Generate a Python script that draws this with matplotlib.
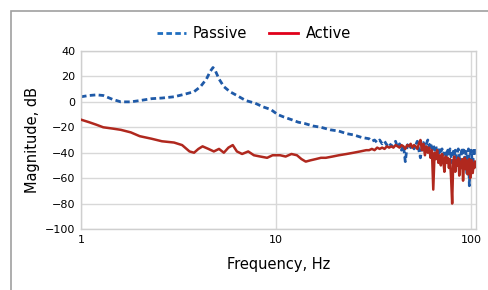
import matplotlib
matplotlib.use("Agg")
import matplotlib.pyplot as plt
from matplotlib.patches import Rectangle
from matplotlib.lines import Line2D
from matplotlib.ticker import FixedLocator, FixedFormatter

# Passive response (dashed blue)
freq_passive = [1, 1.1, 1.2, 1.3, 1.45, 1.6, 1.8, 2.0, 2.3, 2.6, 3.0, 3.4, 3.8,
                4.1, 4.4, 4.6, 4.75, 4.9, 5.1, 5.4, 5.8, 6.3, 7.0, 7.8, 8.6, 9.4,
                10.2, 11, 12, 13, 14, 15.5, 17, 19, 21, 23, 25, 27.5,
                30, 31, 32, 33, 34, 35, 36, 37, 38, 39, 40, 41, 42, 43, 44, 45,
                46, 47, 48, 49, 50, 51, 52, 53, 54, 55, 56, 57, 58, 59, 60, 61,
                62, 63, 64, 65, 66, 67, 68, 69, 70, 71, 72, 73, 74, 75, 76, 77,
                78, 79, 80, 81, 82, 83, 84, 85, 86, 87, 88, 89, 90, 91, 92, 93,
                94, 95, 96, 97, 98, 99, 100, 101, 102, 103, 104, 105]
mag_passive = [4, 5, 5.5, 5, 2, 0, 0, 1, 2.5, 3, 4, 6, 8,
               12, 18, 24, 27, 24, 18, 12, 8, 5, 1, -1, -4, -6,
               -10, -12, -14, -16, -17, -19, -20, -22, -23, -25, -26, -28,
               -29, -31, -30, -32, -30, -33, -31, -34, -32, -35, -33, -31, -36, -33, -38, -34,
               -47, -35, -32, -36, -33, -37, -34, -31, -38, -44, -35, -32, -36, -33, -30, -35,
               -32, -37, -34, -38, -35, -40, -45, -36, -39, -37, -42, -38, -40, -44, -38, -41,
               -37, -43, -48, -39, -42, -38, -44, -40, -37, -43, -52, -40, -36, -42, -38, -45,
               -39, -56, -41, -37, -66, -42, -38, -44, -52, -39, -36, -42]

# Active response (solid red)
freq_active = [1, 1.1, 1.2, 1.3, 1.45, 1.6, 1.8, 2.0, 2.3, 2.6, 3.0, 3.3, 3.6,
               3.8, 4.0, 4.2, 4.5, 4.8, 5.1, 5.4, 5.7, 6.0, 6.3, 6.7, 7.2, 7.7,
               8.3, 9.0, 9.6, 10.5, 11.2, 12, 12.8, 13.5, 14.2, 15, 16, 17, 18,
               19.5, 21, 23, 25, 27, 29,
               30, 31, 32, 33, 34, 35, 36, 37, 38, 39, 40, 41, 42, 43, 44, 45,
               46, 47, 48, 49, 50, 51, 52, 53, 54, 55, 56, 57, 58, 59, 60, 61,
               62, 63, 64, 65, 66, 67, 68, 69, 70, 71, 72, 73, 74, 75, 76, 77,
               78, 79, 80, 81, 82, 83, 84, 85, 86, 87, 88, 89, 90, 91, 92, 93,
               94, 95, 96, 97, 98, 99, 100, 101, 102, 103, 104, 105]
mag_active = [-14, -16, -18, -20, -21, -22, -24, -27, -29, -31, -32, -34, -39,
              -40, -37, -35, -37, -39, -37, -40, -36, -34, -39, -41, -39, -42,
              -43, -44, -42, -42, -43, -41, -42, -45, -47, -46, -45, -44, -44,
              -43, -42, -41, -40, -39, -38,
              -38, -37, -38, -36, -37, -36, -37, -35, -36, -35, -36, -34, -35, -36, -34, -35,
              -37, -34, -35, -33, -36, -34, -35, -37, -33, -30, -38, -33, -42, -35, -40, -36,
              -44, -38, -69, -40, -45, -38, -48, -42, -50, -41, -46, -55, -43, -48, -44, -52,
              -45, -60, -80, -47, -43, -55, -46, -50, -44, -58, -47, -52, -45, -62, -48, -44,
              -53, -46, -57, -49, -45, -60, -50, -46, -56, -48, -52, -47]

y_ticks = [40, 20, 0, -20, -40, -60, -80, -100]
y_labels = ["40", "20", "0", "\u221220", "\u221240", "\u221260", "\u221280", "\u2212100"]
x_ticks = [1, 10, 100]
x_labels = ["1", "10", "100"]

fig = plt.figure(figsize=(4.88, 2.90), dpi=100)
fig.patch.set_facecolor("white")

# outer frame of the panel
fig.patches.append(Rectangle((11 / 488, -0.2), 1.2, 0.2 + (1 - 11 / 290),
                             transform=fig.transFigure, fill=False,
                             edgecolor="#a0a0a0", linewidth=1.2))

ax = fig.add_axes([81 / 488, 1 - 229 / 290, 395 / 488, 178 / 290])

ax.plot(freq_active, mag_active, color="#b0281e", linewidth=1.8, zorder=3)
ax.plot(freq_passive, mag_passive, color="#1f5aa8", linewidth=2.0,
        linestyle=(0, (2.0, 1.2)), zorder=2)

ax.set_xscale("log")
ax.set_xlim(1, 106)
ax.set_ylim(-100, 40)
ax.xaxis.set_major_locator(FixedLocator(x_ticks))
ax.xaxis.set_major_formatter(FixedFormatter(x_labels))
ax.xaxis.set_minor_locator(FixedLocator([]))
ax.yaxis.set_major_locator(FixedLocator(y_ticks))
ax.yaxis.set_major_formatter(FixedFormatter(y_labels))
ax.tick_params(length=0, labelsize=8, pad=4)
for lab in ax.get_xticklabels() + ax.get_yticklabels():
    lab.set_family(["Liberation Sans Narrow", "DejaVu Sans"])
ax.grid(True, color="#d8d8d8", linewidth=1.0)
ax.set_axisbelow(True)
for sp in ax.spines.values():
    sp.set_color("#cfcfcf")
    sp.set_linewidth(1.0)

ax.set_xlabel("Frequency, Hz", fontsize=10.5, labelpad=9)
ax.set_ylabel("Magnitude, dB", fontsize=10.5, labelpad=4)

handles = [Line2D([], [], color="#1f6ec0", linewidth=2.0, linestyle=(0, (2.0, 1.2))),
           Line2D([], [], color="#e0001a", linewidth=2.0)]
fig.legend(handles, ["Passive", "Active"], loc="center", bbox_to_anchor=(0.52, 1 - 34 / 290),
           ncol=2, frameon=False, fontsize=10.5, handlelength=2.0, columnspacing=1.5,
           handletextpad=0.5)

fig.savefig("out.png", dpi=100)
